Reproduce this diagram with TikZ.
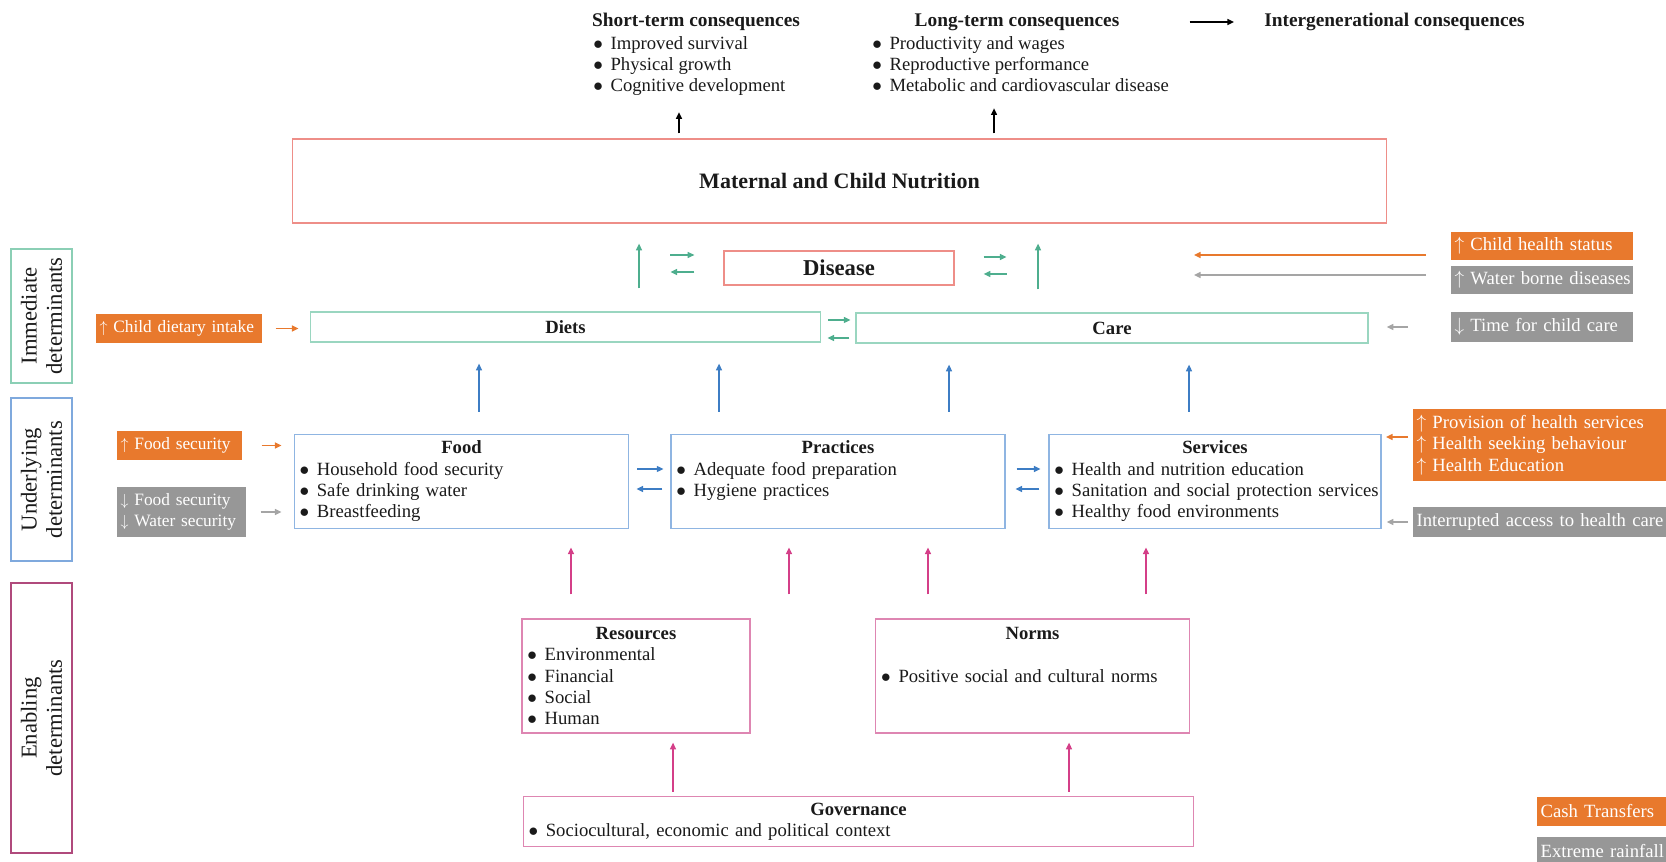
\documentclass[tikz,border=0pt]{standalone}
\usepackage{fontspec}
\setmainfont{Liberation Serif}
\usetikzlibrary{arrows.meta,positioning,calc}
\definecolor{inkText}{HTML}{1A1A1A}
\definecolor{nutEdge}{HTML}{EE8E88}
\definecolor{immEdge}{HTML}{9AD6C0}
\definecolor{immTag}{HTML}{8BCFB5}
\definecolor{immArrow}{HTML}{4EAE8E}
\definecolor{undEdge}{HTML}{8FB5E2}
\definecolor{undTag}{HTML}{7FA9DD}
\definecolor{undArrow}{HTML}{3D7DC4}
\definecolor{enbEdge}{HTML}{DE86B2}
\definecolor{enbTag}{HTML}{B04A7C}
\definecolor{enbArrow}{HTML}{D43F88}
\definecolor{cashFill}{HTML}{E8792D}
\definecolor{rainFill}{HTML}{979797}
\definecolor{rainArrow}{HTML}{A5A5A5}

\newcommand{\bitem}[1]{\mbox{\makebox[13pt][l]{$\bullet$}#1}}
\newcommand{\boxhead}[1]{\makebox[\linewidth]{\textbf{#1}}}
\newcommand{\upto}{$\uparrow$}
\newcommand{\downto}{$\downarrow$}

\begin{document}
\begin{tikzpicture}[
  x=0.75pt, y=-0.75pt,
  font=\fontsize{14}{16}\selectfont, text=inkText,
  box/.style={rectangle, draw, line width=0.9pt, inner xsep=4pt, inner ysep=0pt},
  nutbox/.style={box, draw=nutEdge},
  immbox/.style={box, draw=immEdge, minimum height=22.5pt,
                 font=\fontsize{14}{16}\selectfont\bfseries},
  undbox/.style={box, draw=undEdge, text width=#1, align=left, minimum height=71pt},
  enbbox/.style={box, draw=enbEdge, text width=#1, align=left},
  sidelbl/.style={box, rotate=90, align=center, inner sep=0pt,
                  font=\fontsize{17}{19}\selectfont},
  cashtag/.style={rectangle, fill=cashFill, text=white, anchor=west, align=left,
                  inner xsep=2.5pt, inner ysep=0pt, text width=#1,
                  font=\fontsize{14}{16}\selectfont},
  raintag/.style={cashtag=#1, fill=rainFill},
  lefttag/.style={font=\fontsize{13}{15.5}\selectfont},
  conshead/.style={font=\fontsize{14.5}{16}\selectfont\bfseries, inner sep=0pt},
  conslist/.style={align=left, inner sep=0pt, anchor=north west},
  flowline/.style={-{Triangle[length=5pt,width=4.5pt]}, line width=1.1pt},
  kflow/.style={flowline, draw=black},
  immflow/.style={flowline, draw=immArrow},
  undflow/.style={flowline, draw=undArrow},
  enbflow/.style={flowline, draw=enbArrow},
  cashflow/.style={flowline, draw=cashFill},
  rainflow/.style={flowline, draw=rainArrow},
]
\useasboundingbox (0,0) rectangle (1666,862);

% ---------------- consequences ----------------
\node[conshead] (stc) at (696,22) {Short-term consequences};
\node[conslist] (stlist) at (593,36)
  {\bitem{Improved survival}\\ \bitem{Physical growth}\\ \bitem{Cognitive development}};
\node[conshead] (ltc) at (1017,22) {Long-term consequences};
\node[conslist] (ltlist) at (872,36)
  {\bitem{Productivity and wages}\\ \bitem{Reproductive performance}\\
   \bitem{Metabolic and cardiovascular disease}};
\node[conshead] (igc) at (1394.5,22) {Intergenerational consequences};

% ---------------- nutrition and immediate ----------------
\node[nutbox, minimum width=821pt, minimum height=63pt,
      font=\fontsize{16.5}{18}\selectfont\bfseries] (mcn) at (839.5,181)
  {Maternal and Child Nutrition};
\node[nutbox, minimum width=172.5pt, minimum height=25.5pt,
      font=\fontsize{17}{19}\selectfont\bfseries] (disease) at (839,268) {Disease};
\node[immbox, minimum width=383pt] (diets) at (565.5,327) {Diets};
\node[immbox, minimum width=384pt] (care) at (1112,328) {Care};

% ---------------- underlying ----------------
\node[undbox=243pt] (food) at (461.5,481.5)
  {\boxhead{Food}\\ \bitem{Household food security}\\ \bitem{Safe drinking water}\\
   \bitem{Breastfeeding}};
\node[undbox=242.5pt] (practices) at (838,481.5)
  {\boxhead{Practices}\\ \bitem{Adequate food preparation}\\ \bitem{Hygiene practices}\\
   \vphantom{g}};
\node[undbox=241pt] (services) at (1215,481.5)
  {\boxhead{Services}\\ \bitem{Health and nutrition education}\\
   \bitem{Sanitation and social protection services}\\ \bitem{Healthy food environments}};

% ---------------- enabling ----------------
\node[enbbox=163pt, minimum height=85.5pt] (resources) at (636,676)
  {\boxhead{Resources}\\ \bitem{Environmental}\\ \bitem{Financial}\\ \bitem{Social}\\
   \bitem{Human}};
\node[enbbox=227pt, minimum height=85.5pt] (norms) at (1032.5,676)
  {\boxhead{Norms}\\ ~\\ \bitem{Positive social and cultural norms}\\ ~\\ ~};
\node[enbbox=495pt, minimum height=38pt] (governance) at (858.5,821.5)
  {\boxhead{Governance}\\ \bitem{Sociocultural, economic and political context}};

% ---------------- side labels ----------------
\node[sidelbl, draw=immTag, minimum width=100.5pt, minimum height=45.75pt]
  (immlbl) at (41.5,316) {Immediate\\determinants};
\node[sidelbl, draw=undTag, minimum width=122.25pt, minimum height=45.75pt]
  (undlbl) at (41.5,479.5) {Underlying\\determinants};
\node[sidelbl, draw=enbTag, minimum width=202.5pt, minimum height=45.75pt]
  (enblbl) at (41.5,718) {Enabling\\determinants};

% ---------------- tags ----------------
\node[cashtag=119.5pt, lefttag, minimum height=22pt] (dietup) at (96,328.5)
  {\mbox{\upto{} Child dietary intake}};
\node[cashtag=88.75pt, lefttag, minimum height=22pt] (foodup) at (117,445.5)
  {\mbox{\upto{} Food security}};
\node[raintag=91.75pt, lefttag, minimum height=37.5pt] (foodwater) at (117,512)
  {\mbox{\downto{} Food security}\\ \mbox{\downto{} Water security}};
\node[cashtag=131pt, minimum height=21pt] (healthup) at (1451,246)
  {\mbox{\upto{} Child health status}};
\node[raintag=131pt, minimum height=21pt] (waterup) at (1451,280)
  {\mbox{\upto{} Water borne diseases}};
\node[raintag=131pt, minimum height=22.5pt] (caredown) at (1451,327)
  {\mbox{\downto{} Time for child care}};
\node[cashtag=195pt, minimum height=54pt] (servup) at (1413,445)
  {\upto{} Provision of health services\\ \upto{} Health seeking behaviour\\
   \upto{} Health Education};
\node[raintag=195pt, minimum height=22.5pt] (accessdown) at (1413,522)
  {Interrupted access to health care};
\node[cashtag=110pt, minimum height=22pt] (cash) at (1537,811.5) {Cash Transfers};
\node[raintag=110pt, minimum height=22pt] (rain) at (1537,851.5) {Extreme rainfall};

\coordinate (healthin) at (1194,255);
\coordinate (waterin) at (1194,275);

% ---------------- flows ----------------
% nutrition -> consequences
\draw[kflow, shorten <=3.75pt, shorten >=12pt] (mcn.north -| 679,0) -- (stlist.south -| 679,0);
\draw[kflow, shorten <=3.75pt, shorten >=12pt] (mcn.north -| 994,0) -- (ltlist.south -| 994,0);
\draw[kflow, shorten <=52.5pt, shorten >=22.5pt] (ltc) -- (igc);

% immediate -> nutrition
\draw[immflow, shorten <=17.25pt, shorten >=15pt] (diets.north -| 639,0) -- (mcn.south -| 639,0);
\draw[immflow, shorten <=17.25pt, shorten >=15pt] (care.north -| 1038,0) -- (mcn.south -| 1038,0);

% disease, diets and care both ways
\draw[immflow] (disease.west) ++(-53,-13) -- ++(24,0);
\draw[immflow] (disease.west) ++(-29,4) -- ++(-24,0);
\draw[immflow] (disease.east) ++(29,-11) -- ++(23,0);
\draw[immflow] (disease.east) ++(52,6) -- ++(-23,0);
\draw[immflow] (diets.east) ++(7,-7) -- ++(22,0);
\draw[immflow] (care.west) ++(-6,10) -- ++(-22,0);

% underlying -> immediate
\foreach \xx/\src/\dst in {479/food/diets, 719/practices/diets,
                           949/practices/care, 1189/services/care}
  \draw[undflow, shorten <=16.5pt, shorten >=15.75pt]
    (\src.north -| \xx,0) -- (\dst.south -| \xx,0);

\draw[undflow] (food.east) ++(8,-12.5) -- ++(26,0);
\draw[undflow] (practices.west) ++(-8,7.5) -- ++(-26,0);
\draw[undflow] (practices.east) ++(11,-12.5) -- ++(24,0);
\draw[undflow] (services.west) ++(-9,7.5) -- ++(-24,0);

% enabling -> underlying
\foreach \xx/\src/\dst in {571/resources/food, 789/resources/practices,
                           928/norms/practices, 1146/norms/services}
  \draw[enbflow, shorten <=18pt, shorten >=13.5pt]
    (\src.north -| \xx,0) -- (\dst.south -| \xx,0);
\foreach \xx/\dst in {673/resources, 1069/norms}
  \draw[enbflow, shorten <=3pt, shorten >=6.75pt]
    (governance.north -| \xx,0) -- (\dst.south -| \xx,0);

% tags
\draw[cashflow, shorten <=9.75pt, shorten >=8.25pt] (dietup.east) -- (dietup.east -| diets.west);
\draw[cashflow, shorten <=14.25pt, shorten >=9pt] (foodup.east) -- (foodup.east -| food.west);
\draw[rainflow, shorten <=10.5pt, shorten >=9pt] (foodwater.east) -- (foodwater.east -| food.west);
\draw[cashflow, shorten <=18.75pt] (healthin -| healthup.west) -- (healthin);
\draw[rainflow, shorten <=18.75pt] (waterin -| waterup.west) -- (waterin);
\draw[rainflow, shorten <=32.25pt, shorten >=13.5pt] (caredown.west) -- (caredown.west -| care.east);
\draw[cashflow] (servup.west) ++(-5,-8) -- ++(-22,0);
\draw[rainflow, shorten <=3.75pt, shorten >=3.75pt] (accessdown.west) -- (accessdown.west -| services.east);

\end{tikzpicture}
\end{document}
